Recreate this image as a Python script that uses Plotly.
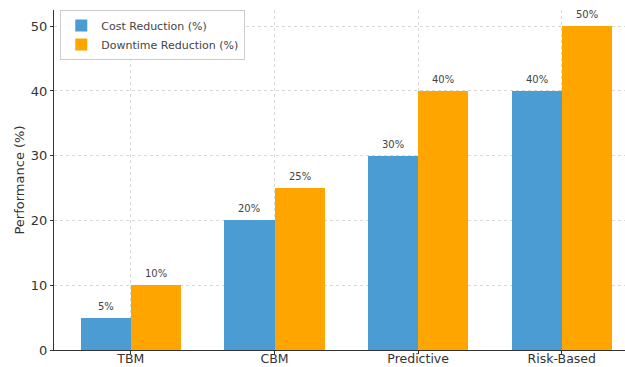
import plotly.graph_objects as go

# Maintenance strategy comparison
strategies = ["TBM", "CBM", "Predictive", "Risk-Based"]
cost_reduction = [5, 20, 30, 40]
downtime_reduction = [10, 25, 40, 50]
series_names = ["Cost Reduction (%)", "Downtime Reduction (%)"]
y_ticks = [0, 10, 20, 30, 40, 50]

BLUE = "#4b9cd3"
ORANGE = "#ffa500"
BAR_W = 0.35
FONT = "DejaVu Sans"

xs = list(range(len(strategies)))
x_cost = [x - BAR_W / 2 for x in xs]
x_down = [x + BAR_W / 2 for x in xs]

fig = go.Figure()
fig.add_trace(go.Bar(x=x_cost, y=cost_reduction, width=BAR_W, name=series_names[0],
                     marker=dict(color=BLUE, line=dict(width=0))))
fig.add_trace(go.Bar(x=x_down, y=downtime_reduction, width=BAR_W, name=series_names[1],
                     marker=dict(color=ORANGE, line=dict(width=0))))

# value labels above each bar
for xv, yv in list(zip(x_cost, cost_reduction)) + list(zip(x_down, downtime_reduction)):
    fig.add_annotation(x=xv, y=yv, text=f"{yv}%", showarrow=False,
                       yanchor="bottom", yshift=4,
                       font=dict(family=FONT, size=10, color="#444444"))

fig.update_layout(
    width=625, height=367,
    margin=dict(l=54, r=0, t=10, b=17),
    plot_bgcolor="white", paper_bgcolor="white",
    font=dict(family=FONT, color="#333333"),
    barmode="overlay",
    bargap=0,
    showlegend=True,
    legend=dict(x=0.011, y=1.0, xanchor="left", yanchor="top",
                bgcolor="rgba(255,255,255,0.9)", bordercolor="#cccccc", borderwidth=1,
                font=dict(family=FONT, size=11, color="#444444"),
                tracegroupgap=0, itemsizing="constant", itemwidth=30),
    xaxis=dict(
        range=[-0.535, 3.44],
        automargin=False,
        tickmode="array", tickvals=xs, ticktext=strategies,
        tickfont=dict(family=FONT, size=12.5, color="#333333"),
        ticklabelstandoff=-6,
        showgrid=True, gridcolor="#d9d9d9", griddash="dot", gridwidth=0.8,
        showline=True, linecolor="#333333", linewidth=1,
        ticks="outside", ticklen=3, tickcolor="#333333",
        zeroline=False,
    ),
    yaxis=dict(
        range=[0, 52.5],
        automargin=False,
        tickmode="array", tickvals=y_ticks,
        tickfont=dict(family=FONT, size=13, color="#333333"),
        title=dict(text="Performance (%)", font=dict(family=FONT, size=13, color="#333333"), standoff=3),
        showgrid=True, gridcolor="#d9d9d9", griddash="dot", gridwidth=0.8,
        showline=True, linecolor="#333333", linewidth=1,
        ticks="outside", ticklen=3, tickcolor="#333333",
        zeroline=False,
    ),
)

fig.write_html("out.html")
